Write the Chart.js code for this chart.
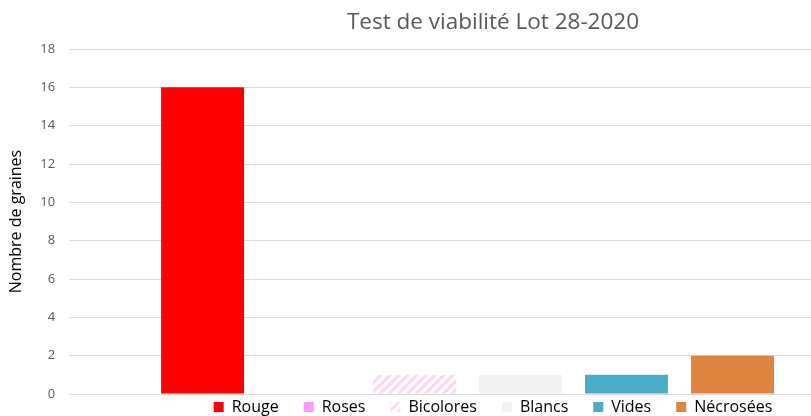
<!DOCTYPE html>
<html>
<head>
<meta charset="utf-8">
<script src="https://cdn.jsdelivr.net/npm/chart.js@4"></script>
<style>
  body { margin: 0; overflow: hidden; background: #fff; }
  #wrap { position: absolute; left: 0; top: 0; }
</style>
</head>
<body>
<div id="wrap"><canvas id="viab" width="980" height="445"></canvas></div>
<script>
const categories = [""];
const seriesNames = ["Rouge", "Roses", "Bicolores", "Blancs", "Vides", "Nécrosées"];
const seriesValues = [16, 0, 1, 1, 1, 2];
const yTicks = [0, 2, 4, 6, 8, 10, 12, 14, 16, 18];

// diagonal pink hatch for "Bicolores"
function hatch() {
  const c = document.createElement("canvas");
  c.width = 9; c.height = 9;
  const g = c.getContext("2d");
  g.fillStyle = "#ffffff";
  g.fillRect(0, 0, 9, 9);
  g.strokeStyle = "#fcd6f3";
  g.lineWidth = 3;
  g.beginPath();
  g.moveTo(-1, 10); g.lineTo(10, -1);
  g.moveTo(-5, 5); g.lineTo(5, -5);
  g.moveTo(4, 14); g.lineTo(14, 4);
  g.stroke();
  return g.createPattern(c, "repeat");
}

const colors = ["#ff0000", "#ff99ff", hatch(), "#f2f2f2", "#4bacc6", "#de8441"];

new Chart(document.getElementById("viab"), {
  type: "bar",
  data: {
    labels: categories,
    datasets: seriesNames.map((name, i) => ({
      label: name,
      data: [seriesValues[i]],
      backgroundColor: colors[i],
      borderWidth: 0,
    })),
  },
  options: {
    responsive: false,
    animation: false,
    categoryPercentage: 0.798,
    barPercentage: 0.783,
    layout: { padding: { left: 6, right: 0, top: 0, bottom: 0 } },
    plugins: {
      tooltip: { enabled: false },
      title: {
        display: true,
        text: "Test de viabilité Lot 28-2020",
        color: "#595959",
        font: { family: "Open Sans", size: 22.5, weight: "normal" },
        padding: { top: 9, bottom: 13 },
      },
      legend: {
        position: "bottom",
        labels: {
          color: "#000000",
          boxWidth: 10,
          boxHeight: 10,
          padding: 25,
          font: { family: "Open Sans", size: 16 },
        },
      },
    },
    scales: {
      x: {
        display: true,
        grid: { display: false },
        border: { display: false },
        ticks: { display: false },
        afterFit: (s) => { s.height = -20; }, // legend sits close under the axis
      },
      y: {
        min: 0,
        max: 18,
        afterBuildTicks: (s) => { s.ticks = yTicks.map((v) => ({ value: v })); },
        grid: { color: "#d9d9d9", drawTicks: false },
        border: { display: false },
        ticks: { color: "#595959", padding: 14, font: { family: "Open Sans", size: 13 } },
        title: {
          display: true,
          text: "Nombre de graines",
          color: "#000000",
          font: { family: "Open Sans", size: 16 },
          padding: { top: 1, bottom: 0 },
        },
      },
      yRight: {
        position: "right",
        grid: { display: false },
        border: { display: false },
        ticks: { display: false },
        afterFit: (s) => { s.width = 114; },
      },
    },
  },
});
</script>
</body>
</html>
